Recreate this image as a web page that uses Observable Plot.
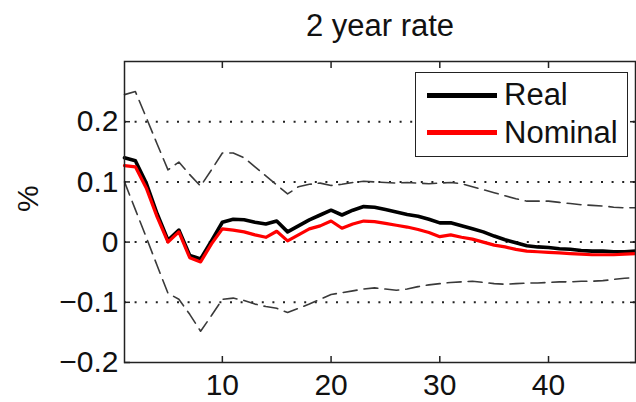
<!DOCTYPE html>
<html><head><meta charset="utf-8">
<script src="https://cdn.jsdelivr.net/npm/d3@7"></script>
<script src="https://cdn.jsdelivr.net/npm/@observablehq/plot@0.6"></script>
<style>
body{margin:0;background:#fff;}
#wrap{position:relative;width:636px;height:402px;font-family:"Liberation Sans",Arial,sans-serif;color:#111;}
#legend{position:absolute;left:415px;top:72px;width:213px;height:85px;border:1.5px solid #222;background:#fff;box-sizing:border-box;}
.sw{position:absolute;left:427px;width:70px;}
.lt{position:absolute;left:504px;font-size:31px;line-height:31px;white-space:nowrap;}
</style></head>
<body>
<div id="wrap"></div>
<script>
const title = "2 year rate";
const yLabel = "%";
const horizon = [1,2,3,4,5,6,7,8,9,10,11,12,13,14,15,16,17,18,19,20,21,22,23,24,25,26,27,28,29,30,31,32,33,34,35,36,37,38,39,40,41,42,43,44,45,46,47,48];
const real = [0.140,0.135,0.098,0.047,0.003,0.020,-0.022,-0.028,0.002,0.033,0.038,0.037,0.033,0.030,0.035,0.017,0.027,0.037,0.045,0.053,0.045,0.053,0.059,0.058,0.054,0.050,0.046,0.043,0.038,0.032,0.032,0.027,0.022,0.017,0.010,0.004,-0.001,-0.006,-0.008,-0.009,-0.011,-0.012,-0.014,-0.015,-0.015,-0.016,-0.016,-0.015];
const nominal = [0.127,0.125,0.090,0.042,0.000,0.017,-0.026,-0.033,-0.003,0.022,0.020,0.017,0.012,0.008,0.018,0.002,0.012,0.022,0.027,0.035,0.023,0.030,0.035,0.034,0.031,0.028,0.025,0.021,0.016,0.009,0.012,0.008,0.005,0.000,-0.005,-0.008,-0.012,-0.015,-0.016,-0.017,-0.018,-0.019,-0.020,-0.021,-0.021,-0.021,-0.020,-0.019];
const upper = [0.245,0.250,0.207,0.163,0.120,0.133,0.112,0.093,0.120,0.148,0.148,0.140,0.125,0.110,0.095,0.080,0.092,0.096,0.098,0.094,0.096,0.099,0.101,0.100,0.099,0.098,0.099,0.098,0.097,0.098,0.099,0.097,0.092,0.087,0.082,0.077,0.072,0.068,0.068,0.068,0.066,0.064,0.062,0.061,0.060,0.058,0.057,0.057];
const lower = [0.100,0.054,0.008,-0.039,-0.085,-0.095,-0.120,-0.148,-0.122,-0.095,-0.093,-0.097,-0.103,-0.107,-0.110,-0.117,-0.110,-0.103,-0.095,-0.087,-0.084,-0.081,-0.078,-0.076,-0.078,-0.080,-0.078,-0.074,-0.071,-0.069,-0.067,-0.066,-0.065,-0.067,-0.069,-0.070,-0.069,-0.068,-0.068,-0.067,-0.066,-0.066,-0.065,-0.065,-0.064,-0.062,-0.060,-0.059];
const xTicks = [10,20,30,40];
const yTicks = [-0.2,-0.1,0,0.1,0.2];
const yTickLabels = ["\u22120.2","\u22120.1","0","0.1","0.2"];
const gridY = [-0.1,0,0.1,0.2];
const seriesNames = ["Real","Nominal"];
const seriesColors = ["#000000","#ff0000"];

const rows = (arr) => horizon.map((h,i) => ({h, v: arr[i]}));

const chart = Plot.plot({
  width: 636, height: 402,
  marginLeft: 124, marginRight: 1, marginTop: 61, marginBottom: 40,
  x: {domain: [1,48]},
  y: {domain: [-0.2,0.3]},
  style: {fontFamily: '"Liberation Sans", Arial, sans-serif', fontSize: "30px", color: "#111", background: "white", overflow: "visible"},
  marks: [
    Plot.ruleY(gridY, {stroke: "#222", strokeWidth: 2, strokeDasharray: "2,8.6"}),
    Plot.line(rows(upper), {x: "h", y: "v", stroke: "#3a3a3a", strokeWidth: 1.6, strokeDasharray: "14,7"}),
    Plot.line(rows(lower), {x: "h", y: "v", stroke: "#3a3a3a", strokeWidth: 1.6, strokeDasharray: "14,7"}),
    Plot.line(rows(real), {x: "h", y: "v", stroke: seriesColors[0], strokeWidth: 3.6}),
    Plot.line(rows(nominal), {x: "h", y: "v", stroke: seriesColors[1], strokeWidth: 3.2}),
    Plot.frame({stroke: "#222", strokeWidth: 1.5}),
    Plot.axisX(xTicks, {anchor: "bottom", tickSize: -6, tickPadding: 17.5, label: null, fontSize: 30, stroke: "#222", strokeWidth: 1.5}),
    Plot.axisX(xTicks, {anchor: "top", tickSize: -6, tickFormat: () => "", label: null, stroke: "#222", strokeWidth: 1.5}),
    Plot.axisY(yTicks, {anchor: "left", tickSize: -6, tickPadding: 12, tickFormat: (d) => yTickLabels[yTicks.indexOf(d)], label: null, fontSize: 30, stroke: "#222", strokeWidth: 1.5}),
    Plot.axisY(yTicks, {anchor: "right", tickSize: -6, tickFormat: () => "", label: null, stroke: "#222", strokeWidth: 1.5}),
    Plot.text([yLabel], {frameAnchor: "left", dx: -96, rotate: -90, fontSize: 30, lineAnchor: "middle", fill: "#111"}),
    Plot.text([title], {frameAnchor: "top", dy: -35.6, fontSize: 31, lineAnchor: "middle", fill: "#111"})
  ]
});
const wrap = document.getElementById("wrap");
wrap.appendChild(chart);

const leg = document.createElement("div");
leg.id = "legend";
wrap.appendChild(leg);
const swTop = [92.5, 129.5], swH = [5.5, 5], txtTop = [78.8, 116.8];
seriesNames.forEach((name, i) => {
  const s = document.createElement("div");
  s.className = "sw";
  s.style.top = swTop[i] + "px";
  s.style.height = swH[i] + "px";
  s.style.background = seriesColors[i];
  wrap.appendChild(s);
  const t = document.createElement("div");
  t.className = "lt";
  t.style.top = txtTop[i] + "px";
  t.textContent = name;
  wrap.appendChild(t);
});
</script>
</body></html>
